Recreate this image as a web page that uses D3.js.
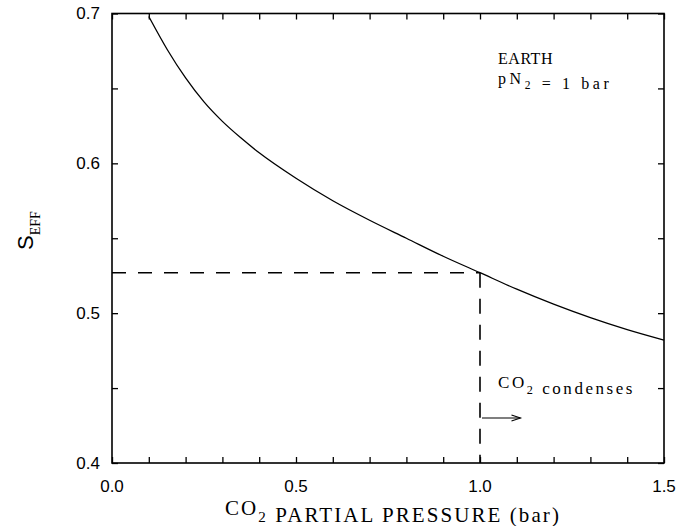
<!DOCTYPE html>
<html>
<head>
<meta charset="utf-8">
<script src="https://cdn.jsdelivr.net/npm/d3@7"></script>
<style>
  body { margin: 0; background: #fff; }
  svg { display: block; }
</style>
</head>
<body>
<div id="chart"></div>
<script>
// CO2 partial pressure (bar) vs effective solar flux
const pressure = [0.1, 0.15, 0.2, 0.25, 0.3, 0.35, 0.4, 0.5, 0.6, 0.7, 0.8, 0.9, 1.0, 1.1, 1.2, 1.3, 1.4, 1.5];
const seff = [0.698, 0.676, 0.657, 0.641, 0.628, 0.617, 0.607, 0.590, 0.575, 0.562, 0.550, 0.538, 0.527, 0.516, 0.506, 0.497, 0.489, 0.482];

const xMajor = [0.0, 0.5, 1.0, 1.5];
const xMinor = d3.range(0, 1.51, 0.1);
const yMajor = [0.4, 0.5, 0.6, 0.7];
const yMinor = d3.range(0.4, 0.701, 0.05);

// condensation point and arrow
const condenseP = 1.0;
const condenseS = 0.527;
const arrowFrom = [1.0, 0.43];
const arrowTo = [1.11, 0.43];

const width = 688, height = 526;
const margin = { top: 13.5, right: 24, bottom: 63, left: 112 };
const w = width - margin.left - margin.right;
const h = height - margin.top - margin.bottom;

const svg = d3.select("#chart")
    .append("svg")
    .attr("width", width)
    .attr("height", height);

const g = svg.append("g")
    .attr("transform", `translate(${margin.left},${margin.top})`);

const x = d3.scaleLinear().domain([0, 1.5]).range([0, w]);
const y = d3.scaleLinear().domain([0.4, 0.7]).range([h, 0]);

// frame
g.append("rect")
    .attr("width", w)
    .attr("height", h)
    .attr("fill", "none")
    .attr("stroke", "#000")
    .attr("stroke-width", 1.6);

// inward ticks on all four sides
function ticks(axis, values, len) {
    axis.tickValues(values).tickSize(-len).tickFormat("");
    return axis;
}
const tickStyle = sel => {
    sel.select(".domain").remove();
    sel.selectAll("line").attr("stroke", "#000").attr("stroke-width", 1.3);
};
g.append("g").attr("transform", `translate(0,${h})`).call(ticks(d3.axisBottom(x), xMinor, 6)).call(tickStyle);
g.append("g").call(ticks(d3.axisTop(x), xMinor, 6)).call(tickStyle);
g.append("g").call(ticks(d3.axisLeft(y), yMinor, 6)).call(tickStyle);
g.append("g").attr("transform", `translate(${w},0)`).call(ticks(d3.axisRight(y), yMinor, 6)).call(tickStyle);

// tick labels
const labelFont = "'Liberation Sans', Arial, sans-serif";
g.selectAll(".xl").data(xMajor).enter().append("text")
    .attr("x", d => x(d))
    .attr("y", h + 29)
    .attr("text-anchor", "middle")
    .style("font-family", labelFont)
    .style("font-size", "17px")
    .text(d => d.toFixed(1));

g.selectAll(".yl").data(yMajor).enter().append("text")
    .attr("x", -12)
    .attr("y", d => y(d))
    .attr("dy", "0.35em")
    .attr("text-anchor", "end")
    .style("font-family", labelFont)
    .style("font-size", "17px")
    .text(d => d.toFixed(1));

// curve
const line = d3.line()
    .x((d, i) => x(pressure[i]))
    .y(d => y(d))
    .curve(d3.curveMonotoneX);

g.append("path")
    .datum(seff)
    .attr("fill", "none")
    .attr("stroke", "#000")
    .attr("stroke-width", 1.3)
    .attr("d", line);

// dashed guide lines
g.append("line")
    .attr("x1", x(0)).attr("x2", x(condenseP))
    .attr("y1", y(condenseS)).attr("y2", y(condenseS))
    .attr("stroke", "#000")
    .attr("stroke-width", 1.4)
    .attr("stroke-dasharray", "14,12");

g.append("line")
    .attr("x1", x(condenseP)).attr("x2", x(condenseP))
    .attr("y1", y(condenseS)).attr("y2", y(0.4))
    .attr("stroke", "#000")
    .attr("stroke-width", 1.6)
    .attr("stroke-dasharray", "15,11");

// arrow
const ax1 = x(arrowFrom[0]), ay = y(arrowFrom[1]), ax2 = x(arrowTo[0]);
g.append("line")
    .attr("x1", ax1 + 2).attr("x2", ax2)
    .attr("y1", ay).attr("y2", ay)
    .attr("stroke", "#000").attr("stroke-width", 1.1);
g.append("path")
    .attr("d", `M${ax2 - 9},${ay - 3}L${ax2},${ay}L${ax2 - 9},${ay + 3}`)
    .attr("fill", "none")
    .attr("stroke", "#000").attr("stroke-width", 1.1);

// text helpers
const serif = "'Liberation Serif', 'Times New Roman', serif";

function fitWidth(text, target) {
    const n = text.text().length;
    const len = text.node().getComputedTextLength();
    text.style("letter-spacing", Math.max(0, (target - len) / n) + "px");
}

function subText(parent, xPos, yPos, parts, size) {
    const t = parent.append("text")
        .attr("x", xPos)
        .attr("y", yPos)
        .style("font-family", serif)
        .style("font-size", size + "px");
    parts.forEach(p => {
        if (p.sub) {
            t.append("tspan").attr("dy", size * 0.33).style("font-size", (size * 0.72) + "px").text(p.sub);
            t.append("tspan").attr("dy", -size * 0.33).text("");
        } else {
            t.append("tspan").text(p.t);
        }
    });
    return t;
}

// annotations
const earth = subText(svg, 498, 64, [{ t: "EARTH" }], 16);
fitWidth(earth, 55);
const pn2 = subText(svg, 498, 84, [{ t: "pN" }, { sub: "2" }, { t: " = 1  bar" }], 16);
fitWidth(pn2, 118);
const cond = subText(svg, 498, 388, [{ t: "CO" }, { sub: "2" }, { t: " condenses" }], 17);
fitWidth(cond, 137);

// x axis title
const xt = subText(svg, 225, 515, [{ t: "CO" }, { sub: "2" }, { t: " PARTIAL PRESSURE (bar)" }], 21);
fitWidth(xt, 336);

// y axis title
const yt = svg.append("text")
    .attr("transform", "translate(33,250) rotate(-90)")
    .style("font-size", "22px");
yt.append("tspan")
    .style("font-family", labelFont)
    .text("S");
yt.append("tspan")
    .attr("dy", 7)
    .style("font-family", serif)
    .style("font-size", "14px")
    .text("EFF");
</script>
</body>
</html>
